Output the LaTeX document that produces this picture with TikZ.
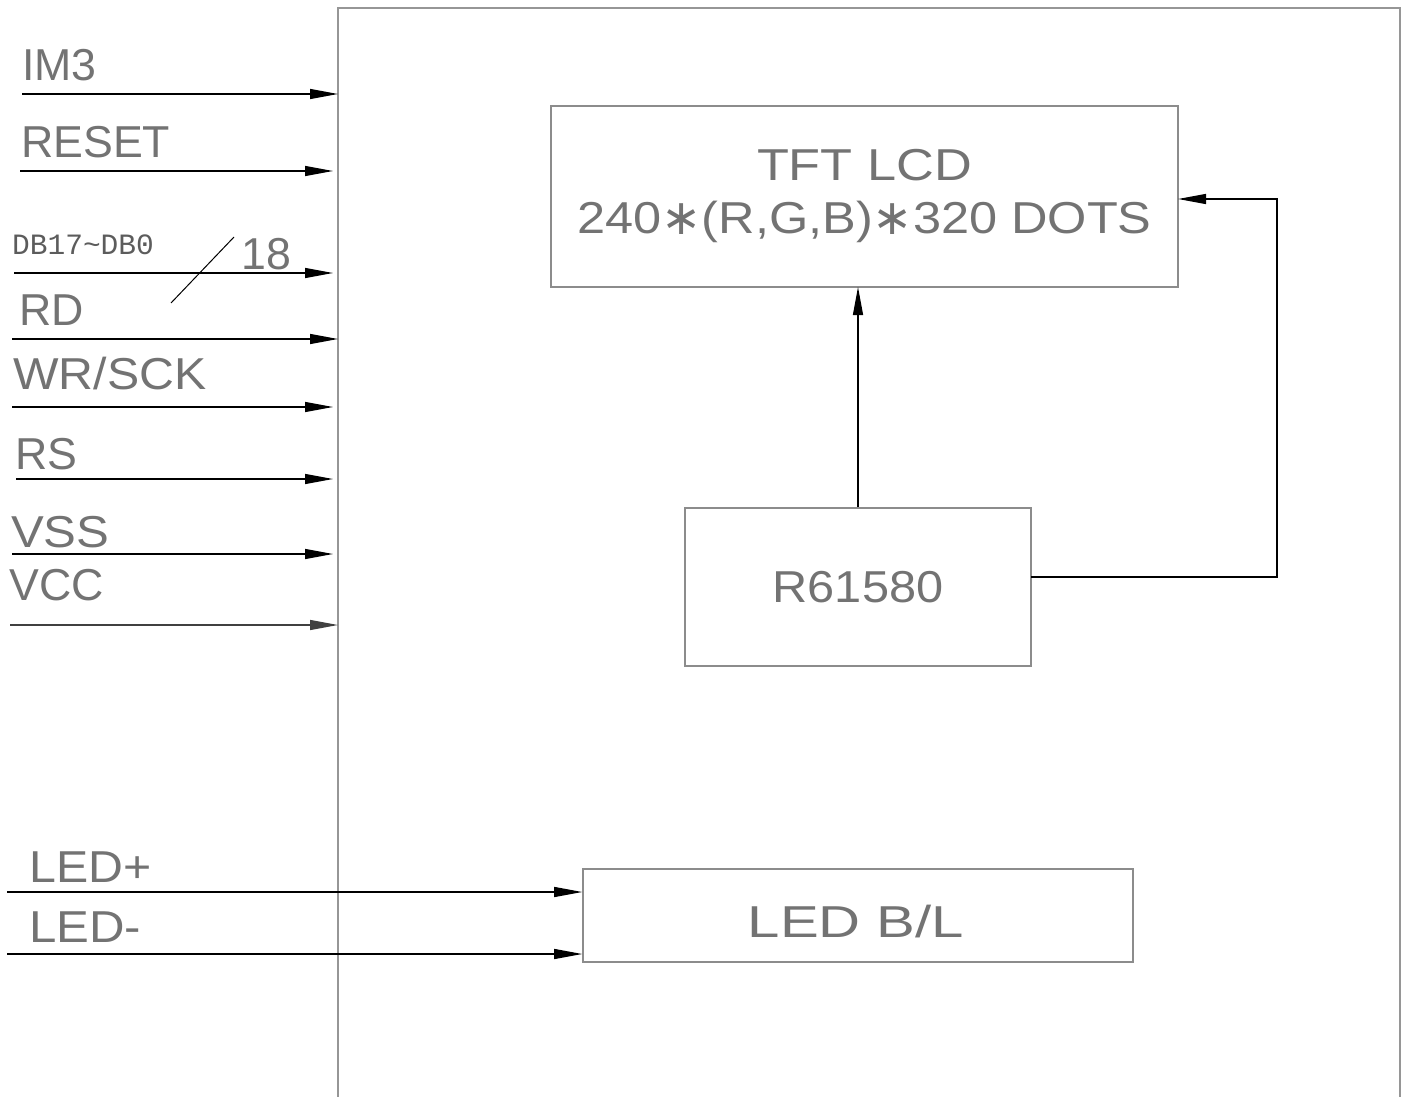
\documentclass[tikz,border=0pt]{standalone}
\usepackage{fontspec}
\setmainfont{Liberation Sans}
\newfontfamily\dbfont{Liberation Mono}
\newfontfamily\symfont{DejaVu Sans}
\usetikzlibrary{arrows.meta}
\definecolor{txtgray}{RGB}{115,115,115}
\definecolor{boxgray}{RGB}{140,140,140}
\definecolor{framegray}{RGB}{150,150,150}
\newcommand{\sx}[2]{\scalebox{#1}[1]{#2}}
\newcommand{\bigast}{\raisebox{-1pt}{\scalebox{0.95}[1.1]{\symfont ∗}}}
\begin{document}
\begin{tikzpicture}[x=1pt,y=-1pt,
  lbl/.style={inner sep=0pt, text=txtgray, font=\fontsize{44.7}{53}\selectfont},
  wlbl/.style={lbl, anchor=base west},
  blk/.style={draw=boxgray, line width=1.6pt, inner sep=0pt, lbl, align=center},
  sig/.style={line width=1.3pt, -{Triangle[length=28pt,width=10pt]}},
  wire/.style={line width=1.3pt}
]
\useasboundingbox (0,0) rectangle (1406,1097);
% outer frame (open at the bottom)
\draw[framegray, line width=1.6pt] (338,1097) -- (338,8) -- (1400,8) -- (1400,1097);

% blocks
\node[blk, minimum width=627pt, minimum height=181pt] (lcd) at (864.5,196.5)
  {\sx{1.17}{TFT LCD}\\\sx{1.13}{240\bigast(R,G,B)\bigast320 DOTS}};
\node[blk, minimum width=346pt, minimum height=158pt] (drv) at (858,587) {\sx{1.09}{R61580}};
\node[blk, minimum width=550pt, minimum height=93pt] (led) at (858,915.5) {};
\node[lbl, anchor=base] (ledt) at (856,937) {\sx{1.3}{LED B/L}};

% internal connections
\coordinate (up) at (858,287);
\draw[sig] (drv.north -| up) -- (up);
\coordinate (fbs) at (1031,577);
\coordinate (fbc) at (1277,577);
\coordinate (fbe) at (1178,199);
\draw[sig] (fbs) -- (fbc) |- (fbe);

% left-side signals
\node[wlbl] (im3) at (22,81) {IM3};
\coordinate (im3a) at (22,94); \coordinate (im3b) at (338,94);
\draw[sig] (im3a) -- (im3b);

\node[wlbl] (rst) at (21,158) {RESET};
\coordinate (rsta) at (20,171); \coordinate (rstb) at (333,171);
\draw[sig] (rsta) -- (rstb);

\node[inner sep=0pt, anchor=base west, text=txtgray!80!black, font=\dbfont\fontsize{29.5}{32}\selectfont] (db) at (12,254) {DB17\textasciitilde DB0};
\coordinate (dba) at (14,273); \coordinate (dbb) at (333,273);
\draw[sig] (dba) -- (dbb);
\coordinate (sl1) at (171,303); \coordinate (sl2) at (234,237);
\draw[wire, line width=1pt] (sl1) -- (sl2);
\node[wlbl] (n18) at (241,269) {18};

\node[wlbl] (rd) at (19,325) {RD};
\coordinate (rda) at (12,339); \coordinate (rdb) at (338,339);
\draw[sig] (rda) -- (rdb);

\node[wlbl] (wr) at (13,389) {\sx{1.08}{WR/SCK}};
\coordinate (wra) at (12,407); \coordinate (wrb) at (333,407);
\draw[sig] (wra) -- (wrb);

\node[wlbl] (rs) at (15,469) {RS};
\coordinate (rsa) at (16,479); \coordinate (rsb) at (333,479);
\draw[sig] (rsa) -- (rsb);

\node[wlbl] (vss) at (11,547) {\sx{1.1}{VSS}};
\coordinate (vssa) at (12,554); \coordinate (vssb) at (333,554);
\draw[sig] (vssa) -- (vssb);

\node[wlbl] (vcc) at (9,600) {VCC};
\coordinate (vcca) at (10,625); \coordinate (vccb) at (338,625);
\draw[sig, black!75] (vcca) -- (vccb);

\node[wlbl] (ledp) at (29,882) {\sx{1.08}{LED+}};
\coordinate (ledpa) at (7,892);
\draw[sig] (ledpa) -- (led.west |- ledpa);

\node[wlbl] (ledm) at (29,942) {\sx{1.1}{LED-}};
\coordinate (ledma) at (7,954);
\draw[sig] (ledma) -- (led.west |- ledma);
\end{tikzpicture}
\end{document}
